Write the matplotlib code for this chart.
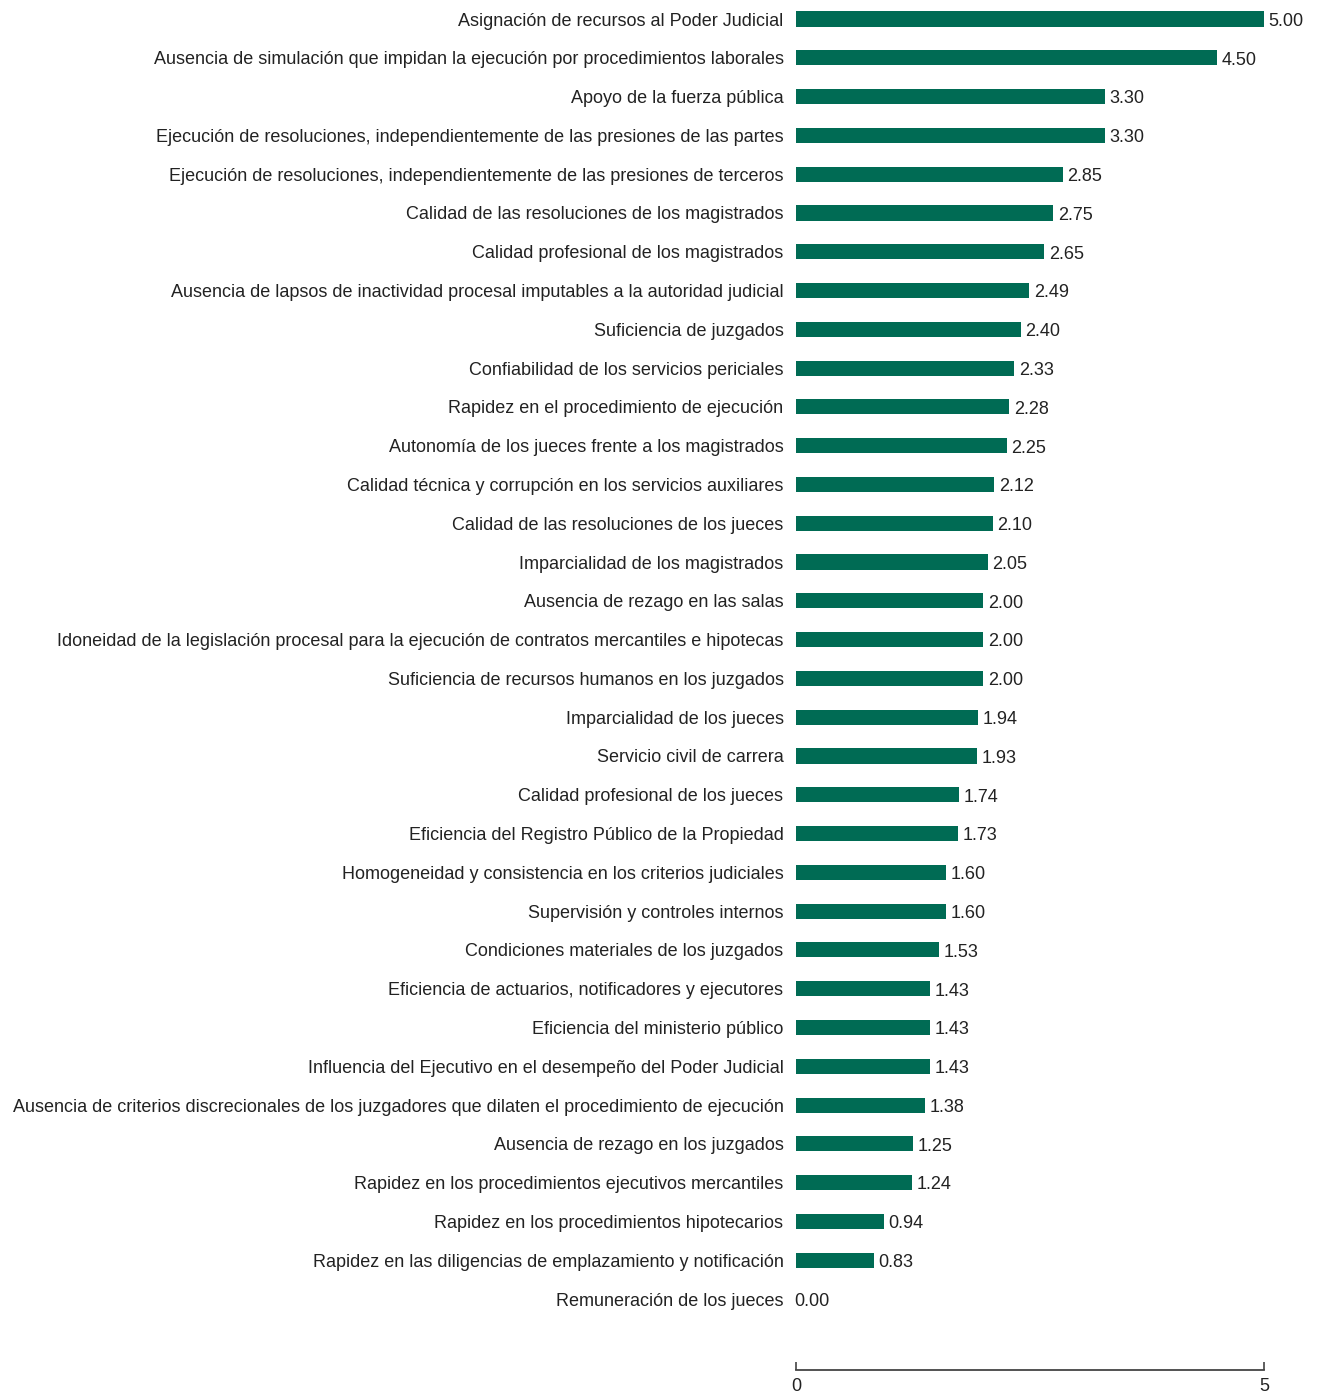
import matplotlib
matplotlib.use("Agg")
import matplotlib.pyplot as plt

categories = [
    "Asignación de recursos al Poder Judicial",
    "Ausencia de simulación que impidan la ejecución por procedimientos laborales",
    "Apoyo de la fuerza pública",
    "Ejecución de resoluciones, independientemente de las presiones de las partes",
    "Ejecución de resoluciones, independientemente de las presiones de terceros",
    "Calidad de las resoluciones de los magistrados",
    "Calidad profesional de los magistrados",
    "Ausencia de lapsos de inactividad procesal imputables a la autoridad judicial",
    "Suficiencia de juzgados",
    "Confiabilidad de los servicios periciales",
    "Rapidez en el procedimiento de ejecución",
    "Autonomía de los jueces frente a los magistrados",
    "Calidad técnica y corrupción en los servicios auxiliares",
    "Calidad de las resoluciones de los jueces",
    "Imparcialidad de los magistrados",
    "Ausencia de rezago en las salas",
    "Idoneidad de la legislación procesal para la ejecución de contratos mercantiles e hipotecas",
    "Suficiencia de recursos humanos en los juzgados",
    "Imparcialidad de los jueces",
    "Servicio civil de carrera",
    "Calidad profesional de los jueces",
    "Eficiencia del Registro Público de la Propiedad",
    "Homogeneidad y consistencia en los criterios judiciales",
    "Supervisión y controles internos",
    "Condiciones materiales de los juzgados",
    "Eficiencia de actuarios, notificadores y ejecutores",
    "Eficiencia del ministerio público",
    "Influencia del Ejecutivo en el desempeño del Poder Judicial",
    "Ausencia de criterios discrecionales de los juzgadores que dilaten el procedimiento de ejecución",
    "Ausencia de rezago en los juzgados",
    "Rapidez en los procedimientos ejecutivos mercantiles",
    "Rapidez en los procedimientos hipotecarios",
    "Rapidez en las diligencias de emplazamiento y notificación",
    "Remuneración de los jueces",
]
values = [5.00, 4.50, 3.30, 3.30, 2.85, 2.75, 2.65, 2.49, 2.40, 2.33, 2.28, 2.25,
          2.12, 2.10, 2.05, 2.00, 2.00, 2.00, 1.94, 1.93, 1.74, 1.73, 1.60, 1.60,
          1.53, 1.43, 1.43, 1.43, 1.38, 1.25, 1.24, 0.94, 0.83, 0.00]

plt.rcParams["font.family"] = ["Liberation Sans", "DejaVu Sans"]

W, H = 1318, 1394
fig = plt.figure(figsize=(W / 100, H / 100), dpi=100)
ax = fig.add_axes([796 / W, 1 - 1370 / H, (1264 - 796) / W, 1370 / H])

pos = list(range(len(categories)))
ax.barh(pos, values, height=0.39, color="#006B54")
for y, v in zip(pos, values):
    off = 0.05 if v > 0 else -0.02
    ax.text(v + off, y + 0.06, f"{v:.2f}", va="center", ha="left",
            fontsize=13, color="#222222")

ax.set_xlim(0, 5)
ax.set_ylim(34.83, -0.49)
ax.set_yticks(pos)
ax.set_yticklabels(categories, fontsize=13, color="#222222")
ax.tick_params(axis="y", length=0, pad=9)
ax.set_xticks([0, 5])
ax.set_xticklabels(["0", "5"], fontsize=13, color="#222222")
ax.tick_params(axis="x", direction="in", length=6, width=1.2, color="#444444", pad=6)

for s in ["top", "right", "left"]:
    ax.spines[s].set_visible(False)
ax.spines["bottom"].set_color("#444444")
ax.spines["bottom"].set_linewidth(1.3)

fig.savefig("out.png", dpi=100)
